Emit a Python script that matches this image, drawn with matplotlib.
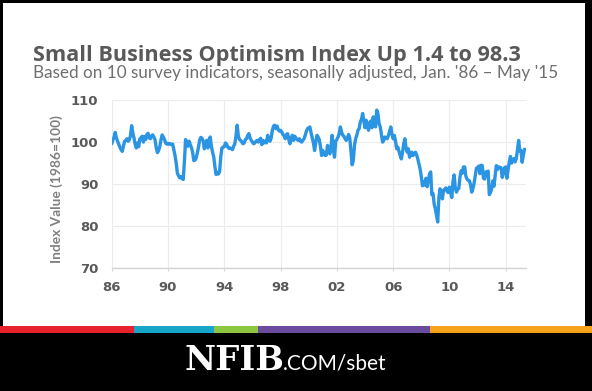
import matplotlib
matplotlib.use("Agg")
import matplotlib.pyplot as plt
from matplotlib.patches import Rectangle
import numpy as np

# ---------------- data (monthly, Jan 1986 - May 2015) ----------------
start_year = 1986
index_1986_1995 = [
    99.6, 100.5, 101.2, 102.3, 101.0, 100.2, 99.5, 98.8, 98.2, 97.8, 99.0, 100.2,      # 1986
    100.4, 100.8, 100.2, 100.5, 101.5, 103.9, 102.2, 101.0, 99.5, 98.6, 99.8, 98.9,    # 1987
    100.8, 101.0, 101.4, 100.0, 101.3, 100.6, 101.8, 102.1, 101.0, 100.8, 101.5, 101.7, # 1988
    101.2, 100.5, 98.6, 97.5, 98.0, 98.9, 100.5, 101.7, 101.2, 100.6, 99.8, 99.5,      # 1989
    99.7, 99.5, 99.6, 99.4, 99.5, 98.2, 96.8, 95.0, 92.6, 92.0, 91.5, 91.8,            # 1990
    91.3, 91.1, 95.4, 100.6, 99.6, 99.0, 100.2, 99.4, 98.7, 97.6, 95.6, 95.7,          # 1991
    96.2, 97.4, 98.8, 100.5, 101.1, 100.9, 100.2, 98.4, 99.9, 100.4, 98.6, 100.6,      # 1992
    101.2, 99.0, 97.6, 96.5, 94.2, 92.3, 92.8, 92.4, 93.0, 96.5, 98.6, 98.8,           # 1993
    98.9, 99.8, 99.5, 98.8, 98.5, 98.6, 98.4, 98.2, 99.0, 99.6, 101.5, 104.0,          # 1994
    101.4, 100.6, 100.4, 100.0, 99.6, 99.8, 100.6, 100.8, 101.6, 102.0, 101.0, 100.4,  # 1995
]
index_1996_2005 = [
    100.0, 99.6, 99.8, 100.2, 100.4, 100.0, 100.6, 100.9, 99.4, 100.4, 99.8, 100.2,    # 1996
    99.8, 101.6, 100.6, 100.2, 101.0, 102.8, 103.8, 104.0, 103.2, 103.8, 103.0, 102.6, # 1997
    102.8, 102.4, 101.8, 101.5, 100.8, 101.8, 102.0, 100.6, 99.6, 101.0, 101.6, 100.4, # 1998
    101.4, 101.0, 100.6, 100.4, 100.8, 100.2, 100.0, 100.4, 100.8, 101.6, 102.6, 103.2, # 1999
    103.4, 103.6, 102.2, 101.0, 99.8, 98.0, 99.8, 101.6, 101.2, 100.6, 99.0, 96.8,     # 2000
    98.0, 97.4, 96.8, 96.9, 99.2, 98.4, 97.2, 99.0, 101.6, 98.2, 96.4, 100.2,          # 2001
    100.6, 101.2, 102.0, 103.6, 102.4, 101.6, 101.4, 100.8, 100.4, 101.0, 101.8, 101.0, # 2002
    97.8, 94.6, 95.6, 99.2, 100.8, 101.6, 102.8, 103.2, 104.8, 105.4, 106.8, 105.0,    # 2003
    103.4, 105.2, 104.0, 102.8, 104.6, 105.0, 103.4, 106.0, 104.2, 103.6, 107.6, 106.8, # 2004
    104.4, 103.6, 101.8, 100.0, 100.4, 101.2, 101.0, 100.8, 101.6, 102.6, 103.6, 101.8, # 2005
]
index_2006_2015 = [
    100.8, 101.6, 100.2, 98.4, 98.8, 97.8, 96.8, 96.0, 97.6, 99.6, 100.8, 98.6,        # 2006
    97.6, 98.4, 96.4, 97.0, 97.6, 96.8, 97.2, 97.6, 97.0, 96.0, 94.8, 93.6,            # 2007
    91.8, 89.6, 90.6, 89.8, 91.4, 89.4, 90.8, 92.4, 92.9, 87.5, 87.8, 85.2,            # 2008
    84.1, 82.6, 81.0, 86.8, 88.9, 87.9, 86.5, 88.6, 88.8, 89.1, 88.3, 88.0,            # 2009
    89.3, 88.0, 86.8, 90.6, 92.2, 89.0, 88.1, 88.8, 89.0, 91.7, 93.2, 92.6,            # 2010
    94.1, 94.1, 91.9, 91.2, 90.9, 90.8, 89.9, 88.1, 88.9, 90.2, 92.0, 93.8,            # 2011
    93.9, 94.3, 92.5, 94.5, 94.4, 91.4, 91.2, 92.9, 92.8, 93.1, 87.5, 88.0,            # 2012
    88.9, 90.8, 89.5, 92.1, 94.4, 93.5, 94.1, 94.0, 93.9, 91.6, 92.5, 93.9,            # 2013
    94.1, 91.4, 93.4, 95.2, 96.6, 95.0, 95.7, 96.1, 95.3, 96.1, 98.1, 100.4,           # 2014
    97.9, 98.0, 95.2, 96.9, 98.3,                                                      # 2015
]
x_tick_years = [1986, 1990, 1994, 1998, 2002, 2006, 2010, 2014]
x_tick_labels = ["86", "90", "94", "98", "02", "06", "10", "14"]
y_ticks = [70, 80, 90, 100, 110]

title = "Small Business Optimism Index Up 1.4 to 98.3"
subtitle = "Based on 10 survey indicators, seasonally adjusted, Jan. '86 \u2013 May '15"
y_label = "Index Value (1986=100)"

values = np.array(index_1986_1995 + index_1996_2005 + index_2006_2015)
years = start_year + np.arange(len(values)) / 12.0

# ---------------- figure ----------------
W, H = 592, 391
fig = plt.figure(figsize=(W / 100, H / 100), dpi=100, facecolor="black")


def fx(px):
    return px / W


def fy(py):
    return 1 - py / H


# white panel
fig.patches.append(Rectangle((fx(3), fy(326)), fx(585) - fx(3), fy(3) - fy(326),
                             transform=fig.transFigure, facecolor="white",
                             edgecolor="none", zorder=-2))
# colour stripe
stripe = [(0, 134, "#e8222b"), (134, 213.5, "#18a6c8"), (213.5, 257.5, "#8dc641"),
          (257.5, 430, "#6b4b9e"), (430, 592, "#f6a11c")]
for x0, x1, c in stripe:
    fig.patches.append(Rectangle((fx(x0), fy(333)), fx(x1) - fx(x0), fy(325.7) - fy(333),
                                 transform=fig.transFigure, facecolor=c,
                                 edgecolor="none", zorder=-1))

# titles
fig.text(fx(33), fy(61), title, family="Open Sans", weight="bold", fontsize=15.6,
         color="#595959", va="baseline", ha="left")
fig.text(fx(33), fy(78.3), subtitle, family="Lato", fontsize=12.3,
         color="#6f6f6f", va="baseline", ha="left")

# axes
ax = fig.add_axes([fx(111.7), fy(268.3), fx(526) - fx(111.7), fy(100) - fy(268.3)])
ax.set_zorder(2)
ax.set_facecolor("white")
ax.plot(years, values, color="#2b95e3", linewidth=2.4, solid_joinstyle="round",
        solid_capstyle="round", zorder=3)
ax.set_xlim(1986, 2015.44)
ax.set_ylim(70, 110)
ax.set_xticks(x_tick_years)
ax.set_xticklabels(x_tick_labels)
ax.set_yticks(y_ticks)
ax.grid(True, color="#ececec", linewidth=0.8, zorder=0)
for side in ["top", "right", "left"]:
    ax.spines[side].set_visible(False)
ax.spines["bottom"].set_color("#d4d4d4")
ax.spines["bottom"].set_linewidth(1.0)
ax.tick_params(axis="x", length=2.5, width=0.8, color="#d4d4d4", pad=7,
               labelsize=9.5, labelcolor="#595959")
ax.tick_params(axis="y", length=0, pad=9.5, labelsize=9.5, labelcolor="#595959")
for lab in ax.get_xticklabels() + ax.get_yticklabels():
    lab.set_fontweight("bold")
    lab.set_family("DejaVu Sans")

fig.text(fx(56.5), fy(189.5), y_label, rotation=90, family="Lato", weight="bold",
         fontsize=9.9, color="#808080", ha="center", va="center")

# footer
fig.text(fx(185), fy(370), "NFIB", family="DejaVu Serif", weight="heavy",
         fontsize=24.5, color="white", ha="left", va="baseline")
fig.text(fx(283), fy(370), ".COM/sbet", family="Lato", weight="normal",
         fontsize=15, color="white", ha="left", va="baseline")

fig.savefig("out.png", dpi=100, facecolor="black")
